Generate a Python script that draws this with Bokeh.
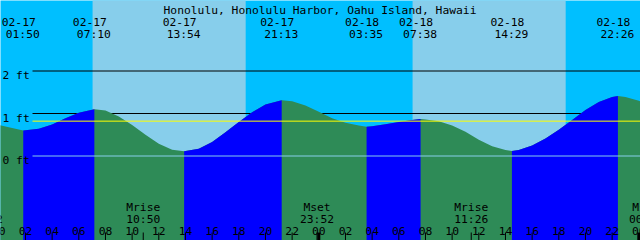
from bokeh.plotting import figure
from bokeh.models import Range1d
from bokeh.core.properties import value
from bokeh.embed import file_html
from bokeh.resources import INLINE

# ---------------- data ----------------
title = "Honolulu, Honolulu Harbor, Oahu Island, Hawaii"

tide_dates = ["02-17", "02-17", "02-17", "02-17", "02-18", "02-18", "02-18", "02-18"]
tide_times = ["01:50", "07:10", "13:54", "21:13", "03:35", "07:38", "14:29", "22:26"]
tide_kinds = ["L", "H", "L", "H", "L", "H", "L", "H"]

# water level curve, hours since 02-17 00:00 and feet
curve_hours = [0.0, 1.0, 1.8333, 3.0, 4.0, 5.0, 6.0, 7.1667, 8.0, 9.0, 10.0, 11.0, 12.0,
               13.0, 13.9, 15.0, 16.0, 17.0, 18.0, 19.0, 20.0, 21.2167, 22.0, 23.0, 24.0,
               25.0, 26.0, 27.0, 27.5833, 28.0, 29.0, 30.0, 31.0, 31.6333, 32.0, 33.0,
               34.0, 35.0, 36.0, 37.0, 38.0, 38.4833, 39.0, 40.0, 41.0, 42.0, 43.0, 44.0,
               45.0, 46.0, 46.4333, 47.0, 48.0, 48.3]
curve_ft = [0.73, 0.66, 0.60, 0.64, 0.74, 0.89, 1.02, 1.10, 1.07, 0.93, 0.73, 0.50, 0.29,
            0.15, 0.11, 0.17, 0.33, 0.56, 0.80, 1.03, 1.21, 1.31, 1.29, 1.19, 1.04,
            0.89, 0.78, 0.72, 0.69, 0.70, 0.75, 0.80, 0.85, 0.87, 0.86, 0.82,
            0.72, 0.57, 0.38, 0.23, 0.14, 0.12, 0.14, 0.25, 0.41, 0.62, 0.85, 1.08,
            1.27, 1.39, 1.41, 1.39, 1.30, 1.27]

sun_dates = ["02-17", "02-18"]
sunrise_times = ["07:02", "07:02"]
sunset_times = ["18:31", "18:31"]

moon_names = ["Mset", "Mrise", "Mset", "Mrise", "Mset"]
moon_dates = ["02-16", "02-17", "02-17", "02-18", "02-19"]
moon_times = ["23:02", "10:50", "23:52", "11:26", "00:32"]

level_ft = [0, 1, 2]
level_labels = ["0 ft", "1 ft", "2 ft"]
mean_level_ft = 0.82

hour_ticks = list(range(0, 49, 2))
hour_labels = ["%02d" % (h % 24) for h in hour_ticks]

# ---------------- helpers ----------------
def to_h(date, hm):
    day = int(date.split("-")[1]) - 17
    hh, mm = hm.split(":")
    return day * 24 + int(hh) + int(mm) / 60.0

X0_PX = -1.7
PX_PER_H = 40.0 / 3.0
Y0_PX = 155.5
PX_PER_FT = 42.5

def hx(px):
    return (px - X0_PX) / PX_PER_H

def fy(py):
    return (Y0_PX - py) / PX_PER_FT

NIGHT = "#00BFFF"
DAY = "#87CEEB"
FALL = "#2E8B57"
RISE = "#0000FF"
FONT = value("DejaVu Sans Mono")
FS = "11.3px"

tide_h = [to_h(d, t) for d, t in zip(tide_dates, tide_times)]
x_lo, x_hi = hx(0), hx(640)
y_lo, y_hi = fy(240), fy(0)

p = figure(width=640, height=240, output_backend="svg", toolbar_location=None,
           x_range=Range1d(x_lo, x_hi), y_range=Range1d(y_lo, y_hi),
           x_axis_type=None, y_axis_type=None, min_border=0,
           background_fill_color=NIGHT, border_fill_color=NIGHT,
           outline_line_color=None)
p.grid.visible = False

# daylight
p.quad(left=[to_h(d, t) for d, t in zip(sun_dates, sunrise_times)],
       right=[to_h(d, t) for d, t in zip(sun_dates, sunset_times)],
       bottom=y_lo - 1, top=y_hi + 1, fill_color=DAY, line_color=None)

# 1 ft / 2 ft reference lines (behind the water)
for lv in level_ft[1:]:
    p.segment(x0=[hx(32)], x1=[x_hi + 1], y0=[lv], y1=[lv], line_color="black", line_width=1)

# water: falling (green) everywhere, rising (blue) on top
bottom = y_lo - 1
p.varea(x=curve_hours, y1=curve_ft, y2=[bottom] * len(curve_ft), fill_color=FALL)
for i, k in enumerate(tide_kinds):
    if k == "L" and i + 1 < len(tide_h):
        a, b = tide_h[i], tide_h[i + 1]
        xs = [h for h in curve_hours if a - 0.01 <= h <= b + 0.01]
        ys = [f for h, f in zip(curve_hours, curve_ft) if a - 0.01 <= h <= b + 0.01]
        p.varea(x=xs, y1=ys, y2=[bottom] * len(ys), fill_color=RISE)

# 0 ft line and mean level
p.segment(x0=[hx(32)], x1=[x_hi + 1], y0=[level_ft[0]], y1=[level_ft[0]],
          line_color=DAY, line_width=1)
p.segment(x0=[hx(32)], x1=[x_hi + 1], y0=[mean_level_ft], y1=[mean_level_ft],
          line_color="#FFFF00", line_width=1)

# level labels
p.text(x=[hx(2)] * 3, y=level_ft, text=level_labels, text_font=FONT, text_font_size=FS,
       text_align="left", text_baseline="alphabetic", y_offset=4.5, text_color="black")

# title
p.text(x=[hx(319.5)], y=[fy(9.5)], text=[title], text_font=FONT, text_font_size=FS,
       text_align="center", text_baseline="alphabetic", text_color="black")

# tide extreme labels
p.text(x=tide_h, y=[fy(21.5)] * len(tide_h), text=tide_dates, text_font=FONT,
       text_font_size=FS, text_align="center", text_baseline="alphabetic",
       x_offset=-4.5, text_color="black")
p.text(x=tide_h, y=[fy(33.5)] * len(tide_h), text=tide_times, text_font=FONT,
       text_font_size=FS, text_align="center", text_baseline="alphabetic",
       x_offset=-0.5, text_color="black")

# moon labels
moon_h = [to_h(d, t) for d, t in zip(moon_dates, moon_times)]
p.text(x=moon_h, y=[fy(206.5)] * len(moon_h), text=moon_names, text_font=FONT,
       text_font_size=FS, text_align="center", text_baseline="alphabetic", text_color="black")
p.text(x=moon_h, y=[fy(218.5)] * len(moon_h), text=moon_times, text_font=FONT,
       text_font_size=FS, text_align="center", text_baseline="alphabetic", text_color="black")

# hour labels and ticks
p.text(x=hour_ticks, y=[fy(230.2)] * len(hour_ticks), text=hour_labels, text_font=FONT,
       text_font_size=FS, text_align="center", text_baseline="alphabetic", text_color="black")
thin = [h for h in hour_ticks if h % 24 != 0] + moon_h
thick = [h for h in hour_ticks if h % 24 == 0]
p.segment(x0=thin, x1=thin, y0=[fy(232)] * len(thin), y1=[fy(241)] * len(thin),
          line_color="black", line_width=1)
p.segment(x0=thick, x1=thick, y0=[fy(232)] * len(thick), y1=[fy(241)] * len(thick),
          line_color="black", line_width=3)

open("out.html", "w").write(file_html(p, INLINE))
